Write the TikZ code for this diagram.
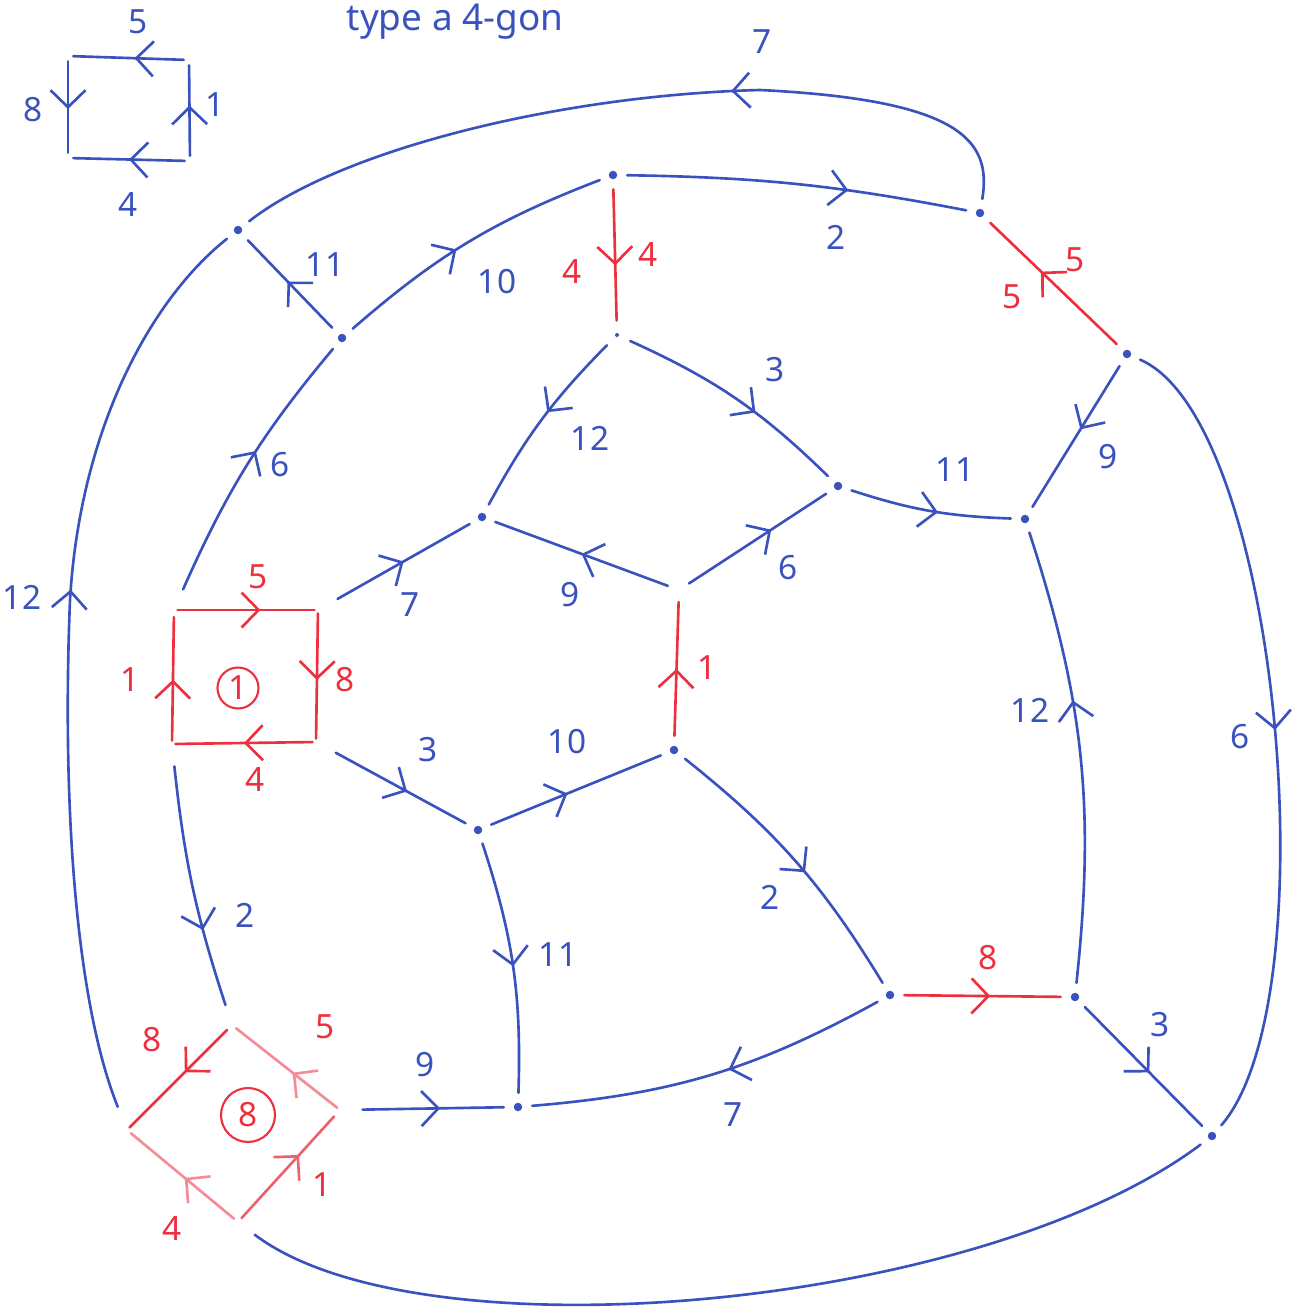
\documentclass[tikz,border=0pt]{standalone}
\usepackage{fontspec}
\setmainfont{Noto Sans}
\usetikzlibrary{arrows.meta,decorations.markings}
\definecolor{pen}{RGB}{58,82,190}
\definecolor{rpen}{RGB}{236,48,62}
\definecolor{mpen}{RGB}{238,96,110}
\definecolor{ppen}{RGB}{243,140,150}
\tikzset{
  edge/.style={line width=1.5pt, line cap=round, pen},
  redge/.style={line width=1.5pt, line cap=round, rpen},
  medge/.style={line width=1.5pt, line cap=round, mpen},
  pedge/.style={line width=1.5pt, line cap=round, ppen},
  arr/.style={postaction={decorate,decoration={markings,mark=at position #1 with {\arrow{Straight Barb[length=3.4mm,width=7mm]}}}}},
  vdot/.style={circle, fill=pen, inner sep=0pt, minimum size=0.17cm, outer sep=0.2cm},
  sdot/.style={circle, fill=pen, inner sep=0pt, minimum size=0.08cm, outer sep=0.25cm},
  corner/.style={circle, inner sep=0pt, minimum size=0pt, outer sep=#1},
  lab/.style={pen, font=\fontsize{19}{21}\selectfont, inner sep=1pt},
  rlab/.style={rpen, font=\fontsize{19}{21}\selectfont, inner sep=1pt},
}
\begin{document}
\begin{tikzpicture}[x=0.02cm, y=-0.02cm]
\useasboundingbox (0,0) rectangle (1295,1309);

% title
\node[pen, font=\fontsize{21}{23}\selectfont, anchor=base] (title) at (455,30) {type a 4-gon};

% small reference square
\node[corner=0pt] (q1) at (68,56) {};
\node[corner=0pt] (q2) at (189,60) {};
\node[corner=0pt] (q3) at (190,161) {};
\node[corner=0pt] (q4) at (68,158) {};
\draw[edge,arr=0.45,shorten <=3pt,shorten >=3pt] (q2.center) -- (q1.center);
\draw[edge,arr=0.55,shorten <=3pt,shorten >=3pt] (q3.center) -- (q2.center);
\draw[edge,arr=0.5,shorten <=3pt,shorten >=3pt] (q3.center) -- (q4.center);
\draw[edge,arr=0.52,shorten <=3pt,shorten >=3pt] (q1.center) -- (q4.center);
\node[lab] (lq5) at (138,22) {5};
\node[lab] (lq1) at (215,105) {1};
\node[lab] (lq4) at (128,205) {4};
\node[lab] (lq8) at (33,110) {8};

% vertices
\node[vdot] (A) at (613,175) {};
\node[vdot] (B) at (980,213) {};
\node[vdot] (C) at (238,230) {};
\node[vdot] (D) at (342,338) {};
\node[sdot] (E) at (617,335) {};
\node[vdot] (F) at (1127,354) {};
\node[vdot] (G) at (838,486) {};
\node[vdot] (H) at (482,517) {};
\node[vdot] (I) at (1025,519) {};
\node[corner=0.24cm] (P) at (679,590) {};
\node[vdot] (J) at (674,750) {};
\node[vdot] (K) at (478,830) {};
\node[vdot] (L) at (890,995) {};
\node[vdot] (M) at (1075,997) {};
\node[vdot] (N) at (518,1107) {};
\node[vdot] (O) at (1212,1136) {};
\coordinate (t7) at (760,90);
\coordinate (t12) at (70,600);

% red square (face 1)
\node[corner=0.45cm] (s1tl) at (174,610) {};
\node[corner=0.45cm] (s1tr) at (318,610) {};
\node[corner=0.45cm] (s1br) at (316,742) {};
\node[corner=0.45cm] (s1bl) at (172,744) {};
\draw[redge,arr=0.6,shorten <=2pt,shorten >=2pt] (s1tl.center) -- (s1tr.center);
\draw[redge,arr=0.53,shorten <=2pt,shorten >=2pt] (s1tr.center) -- (s1br.center);
\draw[redge,arr=0.5,shorten <=2pt,shorten >=2pt] (s1br.center) -- (s1bl.center);
\draw[redge,arr=0.48,shorten <=2pt,shorten >=4pt] (s1bl.center) -- (s1tl.center);
\node[draw=rpen, circle, line width=1.2pt, minimum size=0.82cm, rlab] (c1) at (238,688) {1};
\node[rlab] (ls5) at (258,577) {5};
\node[rlab] (ls8) at (345,680) {8};
\node[rlab] (ls4) at (255,780) {4};
\node[rlab] (ls1) at (130,680) {1};

% red diamond (face 8)
\node[corner=0.42cm] (dT) at (232,1025) {};
\node[corner=0.45cm] (dR) at (340,1110) {};
\node[corner=0.42cm] (dB) at (238,1222) {};
\node[corner=0.5cm] (dL) at (127,1130) {};
\draw[redge,arr=0.45,shorten <=4pt,shorten >=2pt] (dT.center) -- (dL.center);
\draw[pedge,arr=0.44,shorten <=2pt,shorten >=3pt] (dR.center) -- (dT.center);
\draw[pedge,arr=0.48,shorten <=3pt,shorten >=3pt] (dB.center) -- (dL.center);
\draw[medge,arr=0.6,shorten <=3pt,shorten >=5pt] (dB.center) -- (dR.center);
\node[draw=rpen, circle, line width=1.2pt, minimum size=1.08cm, rlab] (c8) at (248,1115) {8};
\node[rlab] (ld8) at (152,1040) {8};
\node[rlab] (ld5) at (325,1027) {5};
\node[rlab] (ld4) at (172,1228) {4};
\node[rlab] (ld1) at (322,1185) {1};

% red edges
\draw[redge,arr=0.58] (A) -- (E);
\node[rlab] (lae1) at (572,272) {4};
\node[rlab] (lae2) at (648,255) {4};
\draw[redge,arr=0.6] (F) -- (B);
\node[rlab] (lfb1) at (1075,260) {5};
\node[rlab] (lfb2) at (1012,297) {5};
\draw[redge,arr=0.5] (J) -- (P);
\node[rlab] (ljp) at (707,668) {1};
\draw[redge,arr=0.55] (L) -- (M);
\node[rlab] (llm) at (988,958) {8};

% blue edges
\draw[edge,arr=0.38] (B) .. controls (992,140) and (960,100) .. (t7) .. controls (560,95) and (340,150) .. (C);
\node[lab] (l7top) at (762,42) {7};
\draw[edge,arr=0.65] (A) to[bend left=5] (B);
\node[lab] (lab2) at (836,237) {2};
\draw[edge,arr=0.53] (D) -- (C);
\node[lab] (ldc) at (325,265) {11};
\draw[edge,arr=0.57] (dL) .. controls (75,1000) and (62,800) .. (t12) .. controls (80,430) and (150,300) .. (C);
\node[lab] (l12l) at (22,597) {12};
\draw[edge,arr=0.45] (D) to[bend left=10] (A);
\node[lab] (lda) at (497,282) {10};
\draw[edge,arr=0.55] (s1tl) to[bend left=8] (D);
\node[lab] (lsd) at (280,465) {6};
\draw[edge,arr=0.6] (E) to[bend left=10] (G);
\node[lab] (leg) at (775,370) {3};
\draw[edge,arr=0.45] (E) to[bend right=8] (H);
\node[lab] (leh) at (590,438) {12};
\draw[edge,arr=0.45] (F) -- (I);
\node[lab] (lfi) at (1108,457) {9};
\draw[edge,arr=0.5] (F) .. controls (1280,420) and (1330,1000) .. (O);
\node[lab] (lfo) at (1240,737) {6};
\draw[edge,arr=0.55] (G) to[bend right=8] (I);
\node[lab] (lgi) at (955,470) {11};
\draw[edge,arr=0.6] (P) -- (G);
\node[lab] (lpg) at (788,568) {6};
\draw[edge,arr=0.5] (P) -- (H);
\node[lab] (lph) at (570,595) {9};
\draw[edge,arr=0.5] (s1tr) -- (H);
\node[lab] (lsh) at (410,605) {7};
\draw[edge,arr=0.55] (s1br) -- (K);
\node[lab] (lsk) at (428,750) {3};
\draw[edge,arr=0.45] (K) -- (J);
\node[lab] (lkj) at (567,742) {10};
\draw[edge,arr=0.5] (K) to[bend left=10] (N);
\node[lab] (lkn) at (558,955) {11};
\draw[edge,arr=0.55] (J) to[bend left=10] (L);
\node[lab] (ljl) at (770,897) {2};
\draw[edge,arr=0.62] (M) to[bend right=12] (I);
\node[lab] (lmi) at (1030,710) {12};
\draw[edge,arr=0.55] (M) -- (O);
\node[lab] (lmo) at (1160,1025) {3};
\draw[edge,arr=0.45] (L) to[bend left=12] (N);
\node[lab] (lln) at (733,1115) {7};
\draw[edge,arr=0.55] (dR) -- (N);
\node[lab] (ldn) at (425,1065) {9};
\draw[edge,arr=0.68] (s1bl) to[bend right=6] (dT);
\node[lab] (lsdt) at (245,915) {2};
\draw[edge] (O) .. controls (980,1310) and (420,1360) .. (dB);
\end{tikzpicture}
\end{document}
